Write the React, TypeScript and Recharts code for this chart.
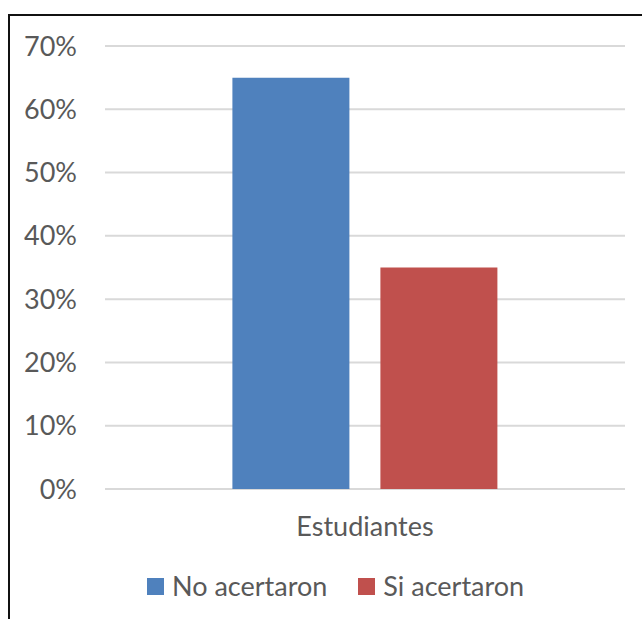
import { BarChart, Bar, XAxis, YAxis, CartesianGrid } from 'recharts'

const categories = ['Estudiantes']
const noAcertaron = [0.65]
const siAcertaron = [0.35]
const yTicks = [0, 0.1, 0.2, 0.3, 0.4, 0.5, 0.6, 0.7]

const series = [
  { key: 'no', name: 'No acertaron', values: noAcertaron, color: '#4f81bd' },
  { key: 'si', name: 'Si acertaron', values: siAcertaron, color: '#c0504d' },
]

const data = categories.map((cat, i) => {
  const row: Record<string, string | number> = { cat }
  series.forEach((s) => { row[s.key] = s.values[i] })
  return row
})

const FONT = 'Lato, "Open Sans", sans-serif'
const TEXT = '#595959'

export default function App() {
  return (
    <div style={{ position: 'absolute', left: 0, top: 0, width: 642, height: 619, background: '#fff', fontFamily: FONT, overflow: 'hidden' }}>
      {/* frame: top and left edges only */}
      <div style={{ position: 'absolute', left: 8, top: 14, right: 0, bottom: 0, borderTop: '2px solid #111', borderLeft: '2px solid #111' }} />

      <div style={{ position: 'absolute', left: 0, top: 0 }}>
        <BarChart width={642} height={619} data={data} margin={{ top: 46, right: 17, left: 0, bottom: 80 }} barCategoryGap="24.5%" barGap={31}>
          <CartesianGrid vertical={false} stroke="#d9d9d9" strokeWidth={2} />
          <XAxis dataKey="cat" height={50} axisLine={false} tickLine={false} tickSize={0} tickMargin={28}
            tick={{ fill: TEXT, fontSize: 27, fontFamily: FONT }} />
          <YAxis width={105} domain={[0, 0.7]} ticks={yTicks} interval={0} axisLine={false} tickLine={false}
            tickSize={0} tickMargin={28} tickFormatter={(v: number) => `${Math.round(v * 100)}%`}
            tick={{ fill: TEXT, fontSize: 27, fontFamily: FONT }} />
          {series.map((s) => (
            <Bar key={s.key} dataKey={s.key} name={s.name} fill={s.color} isAnimationActive={false} />
          ))}
        </BarChart>
      </div>

      {/* legend */}
      <div style={{ position: 'absolute', left: 147, top: 566, display: 'flex', alignItems: 'center', color: TEXT, fontSize: 27, lineHeight: '40px' }}>
        {series.map((s, i) => (
          <div key={s.key} style={{ display: 'flex', alignItems: 'center', marginLeft: i === 0 ? 0 : 31 }}>
            <span style={{ width: 17, height: 17, background: s.color, display: 'inline-block', marginRight: 8 }} />
            <span>{s.name}</span>
          </div>
        ))}
      </div>
    </div>
  )
}
